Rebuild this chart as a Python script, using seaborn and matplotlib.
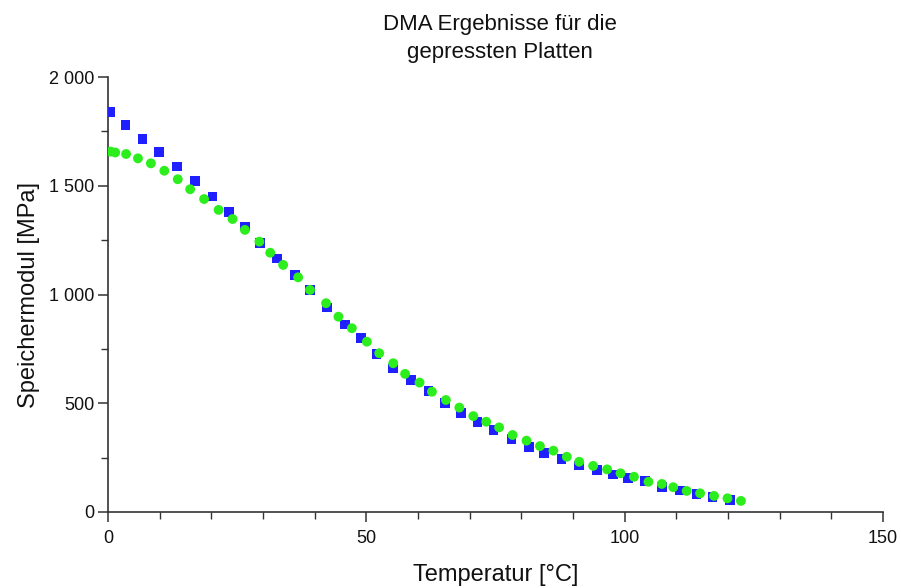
import matplotlib
matplotlib.use("Agg")
import matplotlib.pyplot as plt
from matplotlib.ticker import MultipleLocator, FuncFormatter
import seaborn as sns
import pandas as pd

# Series 1 (blue squares)
temp_blue = [0.5, 3.4, 6.7, 9.9, 13.4, 16.8, 20.2, 23.4, 26.5, 29.4, 32.7, 36.2,
             39.1, 42.4, 45.9, 49.0, 52.0, 55.2, 58.6, 62.0, 65.2, 68.3, 71.5,
             74.6, 78.1, 81.5, 84.4, 87.8, 91.2, 94.6, 97.8, 100.6, 103.9, 107.2,
             110.7, 113.9, 117.0, 120.4]
mod_blue = [1840, 1780, 1716, 1654, 1588, 1521, 1450, 1380, 1312, 1237, 1166, 1090,
            1020, 941, 862, 799, 727, 660, 606, 556, 502, 454, 415,
            378, 335, 300, 270, 243, 214, 193, 173, 157, 142, 114,
            98, 82, 68, 55]

# Series 2 (green circles)
temp_green = [0.5, 1.4, 3.5, 5.8, 8.3, 10.9, 13.5, 15.9, 18.6, 21.4, 24.1, 26.5,
              29.3, 31.4, 33.9, 36.8, 39.1, 42.2, 44.6, 47.2, 50.1, 52.5, 55.2,
              57.5, 60.3, 62.7, 65.4, 68.0, 70.7, 73.2, 75.7, 78.3, 81.0, 83.6,
              86.2, 88.8, 91.2, 93.9, 96.6, 99.2, 101.8, 104.6, 107.2, 109.4,
              112.0, 114.6, 117.3, 119.9, 122.5]
mod_green = [1657, 1653, 1646, 1626, 1603, 1569, 1530, 1484, 1439, 1389, 1347, 1297,
             1243, 1192, 1136, 1079, 1021, 960, 898, 845, 783, 730, 684,
             635, 595, 553, 515, 480, 441, 415, 389, 354, 328, 303,
             282, 254, 231, 212, 196, 178, 162, 139, 129, 114,
             97, 86, 74, 63, 51]

title = "DMA Ergebnisse für die\ngepressten Platten"
xlabel = "Temperatur [°C]"
ylabel = "Speichermodul [MPa]"

sns.set_theme(style="ticks")
plt.rcParams["font.family"] = ["Liberation Sans Narrow", "Liberation Sans", "DejaVu Sans"]

df_b = pd.DataFrame({"T": temp_blue, "E": mod_blue})
df_g = pd.DataFrame({"T": temp_green, "E": mod_green})

fig = plt.figure(figsize=(9.01, 5.88), dpi=100)
ax = fig.add_axes([108 / 901, 76 / 588, (883 - 108) / 901, (512 - 77) / 588])

sns.scatterplot(data=df_b, x="T", y="E", ax=ax, marker="s", s=48, color="#1f1fff",
                edgecolor="none", linewidth=0, zorder=3)
sns.scatterplot(data=df_g, x="T", y="E", ax=ax, marker="o", s=50, color="#2cee1c",
                edgecolor="none", linewidth=0, zorder=4)

ax.set_xlim(0, 150)
ax.set_ylim(0, 2000)
ax.xaxis.set_major_locator(MultipleLocator(50))
ax.xaxis.set_minor_locator(MultipleLocator(10))
ax.yaxis.set_major_locator(MultipleLocator(500))
ax.yaxis.set_minor_locator(MultipleLocator(250))
ax.yaxis.set_major_formatter(FuncFormatter(lambda v, p: f"{int(v):,}".replace(",", " ")))

for side in ["top", "right"]:
    ax.spines[side].set_visible(False)
for side in ["left", "bottom"]:
    ax.spines[side].set_color("#333333")
    ax.spines[side].set_linewidth(1.2)

ax.tick_params(which="major", length=7, width=1.1, color="#333333", labelsize=13,
               labelcolor="#111111", pad=3)
ax.tick_params(axis="x", which="major", pad=6)
ax.tick_params(which="minor", length=5, width=1.0, color="#333333")

ax.set_xlabel(xlabel, fontsize=17, color="#111111", labelpad=12)
ax.set_ylabel(ylabel, fontsize=17, color="#111111", labelpad=6)
fig.text(0.555, 0.935, title, ha="center", va="center", fontsize=16, color="#111111",
         linespacing=1.45)

fig.savefig("out.png", dpi=100, facecolor="white")
